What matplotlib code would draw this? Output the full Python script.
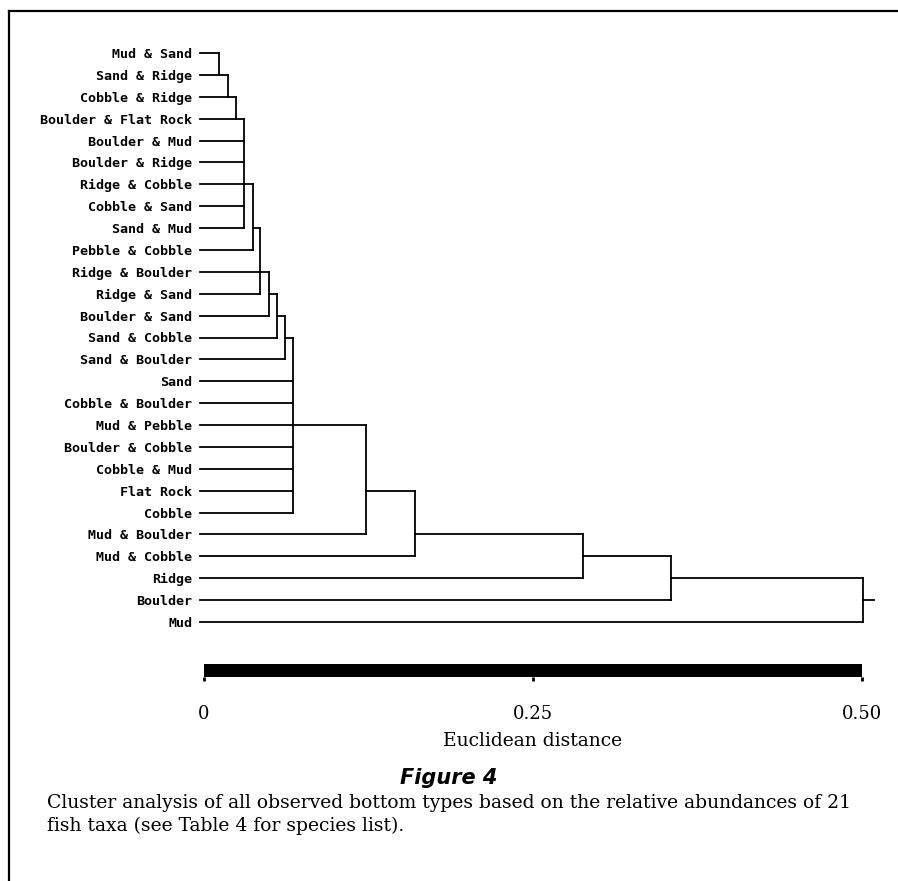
import matplotlib.pyplot as plt
from matplotlib.lines import Line2D

W, H = 898, 881

# leaves, top to bottom
labels = ['Mud & Sand', 'Sand & Ridge', 'Cobble & Ridge', 'Boulder & Flat Rock',
          'Boulder & Mud', 'Boulder & Ridge', 'Ridge & Cobble', 'Cobble & Sand',
          'Sand & Mud', 'Pebble & Cobble', 'Ridge & Boulder', 'Ridge & Sand',
          'Boulder & Sand', 'Sand & Cobble', 'Sand & Boulder', 'Sand',
          'Cobble & Boulder', 'Mud & Pebble', 'Boulder & Cobble', 'Cobble & Mud',
          'Flat Rock', 'Cobble', 'Mud & Boulder', 'Mud & Cobble', 'Ridge',
          'Boulder', 'Mud']

# merge heights along the chain and the leaves that join at each one
heights = [0.0116, 0.018, 0.0243, 0.0306, 0.0372, 0.0428, 0.0496, 0.0557,
           0.0616, 0.0676, 0.123, 0.160, 0.288, 0.355, 0.501]
joins = [[0, 1], [2], [3], [4, 5, 6, 7, 8], [9], [10, 11], [12], [13], [14],
         [15, 16, 17, 18, 19, 20, 21], [22], [23], [24], [25], [26]]

ticks = [0, 0.25, 0.5]
tick_labels = ['0', '0.25', '0.50']


def fx(px):
    return px / W


def fy(px):
    return 1 - px / H


fig = plt.figure(figsize=(W / 100, H / 100), dpi=100)

# dendrogram
ax = fig.add_axes([fx(204), fy(622), fx(862 - 204), (622 - 53) / H])
ax.set_xlim(0, 0.5)
ax.set_ylim(len(labels) - 1, 0)
for s in ax.spines.values():
    s.set_visible(False)
ax.set_xticks([])
ax.set_yticks(range(len(labels)))
ax.set_yticklabels(labels, family='DejaVu Sans Mono', fontweight='bold', fontsize=9.6)
ax.tick_params(axis='y', length=0, pad=8.6)

lw = 1.3
start = -0.003
node = None
for h, leaves in zip(heights, joins):
    ys = []
    for j in leaves:
        ax.plot([start, h], [j, j], color='black', lw=lw, clip_on=False)
        ys.append(j)
    if node is not None:
        ax.plot([node[1], h], [node[0], node[0]], color='black', lw=lw, clip_on=False)
        ys.append(node[0])
    ax.plot([h, h], [min(ys), max(ys)], color='black', lw=lw, clip_on=False)
    # node sits on the row just past the midpoint, as in the original layout
    node = (min(ys) + max(ys) + 1) // 2, h
ax.plot([node[1], 0.509], [node[0], node[0]], color='black', lw=lw, clip_on=False)

# scale bar
ax2 = fig.add_axes([fx(204), fy(677), fx(862 - 204), 13 / H])
ax2.set_xlim(0, 0.5)
ax2.set_ylim(0, 1)
ax2.fill_between([ticks[0], ticks[-1]], 0, 1, color='black', lw=0)
for s in ax2.spines.values():
    s.set_visible(False)
ax2.set_yticks([])
ax2.set_xticks(ticks)
ax2.set_xticklabels(tick_labels, family='DejaVu Serif', fontsize=13)
ax2.tick_params(axis='x', length=3, width=2, pad=17)
ax2.set_xlabel('Euclidean distance', family='DejaVu Serif', fontsize=13.5, labelpad=7)

# caption
fig.text(0.5, fy(778), 'Figure 4', ha='center', va='center',
         fontsize=15, fontweight='bold', fontstyle='italic', family='DejaVu Sans')
fig.text(fx(47), fy(803), 'Cluster analysis of all observed bottom types based on the '
         'relative abundances of 21', ha='left', va='center',
         fontsize=13.5, family='DejaVu Serif')
fig.text(fx(47), fy(826), 'fish taxa (see Table 4 for species list).', ha='left',
         va='center', fontsize=13.5, family='DejaVu Serif')

# frame
fig.add_artist(Line2D([fx(9), fx(9)], [fy(11), 0], color='black', lw=1.6))
fig.add_artist(Line2D([fx(9), 1], [fy(11), fy(11)], color='black', lw=1.6))

fig.savefig('out.png', dpi=100)
